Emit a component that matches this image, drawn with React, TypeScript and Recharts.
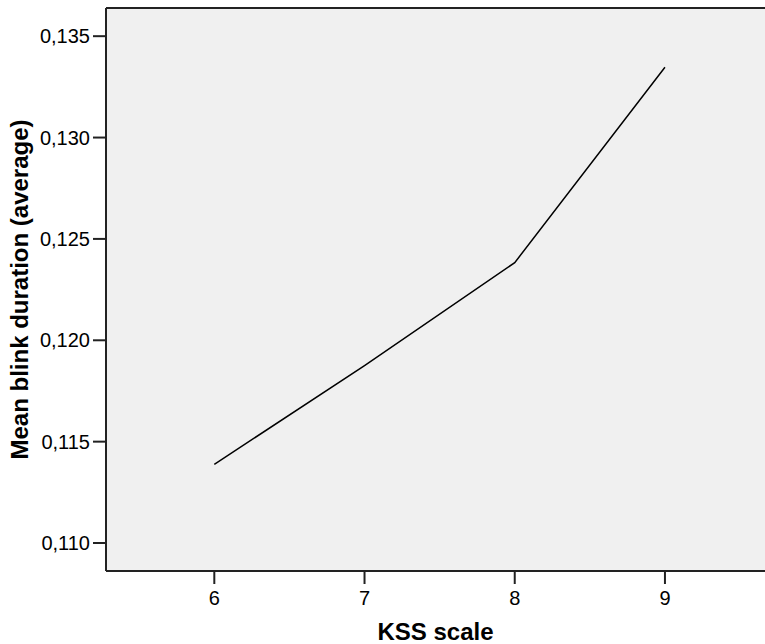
import { LineChart, Line, XAxis, YAxis, CartesianGrid, ReferenceLine } from "recharts";

const kss = [6, 7, 8, 9];
const blinkDuration = [0.11388, 0.11875, 0.12383, 0.13347];
const yTicks = [0.11, 0.115, 0.12, 0.125, 0.13, 0.135];
const xTicks = [6, 7, 8, 9];

const data = kss.map((k, i) => ({ kss: k, value: blinkDuration[i] }));

const font = "'Liberation Sans', Arial, sans-serif";
const fmt = (v: number) => v.toFixed(3).replace(".", ",");

export default function App() {
  return (
    <div style={{ position: "absolute", left: 0, top: 0, fontFamily: font }}>
      <LineChart
        width={765}
        height={644}
        data={data}
        margin={{ top: 8, right: 0, left: 0, bottom: 0 }}
      >
        <CartesianGrid fill="#f0f0f0" horizontal={false} vertical={false} />
        <ReferenceLine y={0.13639} stroke="#222" strokeWidth={2} />
        <XAxis
          dataKey="kss"
          type="number"
          domain={[5.279, 9.666]}
          ticks={xTicks}
          allowDataOverflow
          height={73}
          tickSize={13}
          tickMargin={7}
          stroke="#222"
          strokeWidth={2}
          fontSize={20}
          tick={{ fontSize: 20, fill: "#000", fontFamily: font }}
          label={{
            value: "KSS scale",
            position: "insideBottom",
            offset: 4,
            style: { fontSize: 24, fontWeight: "bold", fill: "#000", fontFamily: font },
          }}
        />
        <YAxis
          type="number"
          domain={[0.10862, 0.13639]}
          ticks={yTicks}
          allowDataOverflow
          width={106}
          tickSize={13}
          tickMargin={3}
          tickFormatter={fmt}
          stroke="#222"
          strokeWidth={2}
          fontSize={20}
          tick={{ fontSize: 20, fill: "#000", fontFamily: font }}
          label={{
            value: "Mean blink duration (average)",
            angle: -90,
            position: "insideLeft",
            offset: 19,
            style: { fontSize: 24, fontWeight: "bold", fill: "#000", fontFamily: font, textAnchor: "middle" },
          }}
        />
        <Line
          type="linear"
          dataKey="value"
          stroke="#000"
          strokeWidth={1.5}
          dot={false}
          isAnimationActive={false}
        />
      </LineChart>
    </div>
  );
}
